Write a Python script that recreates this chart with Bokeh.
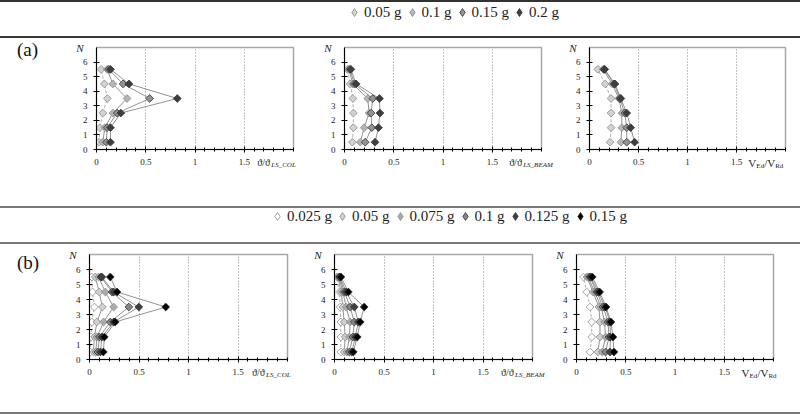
import math
from bokeh.plotting import figure
from bokeh.layouts import column, row
from bokeh.models import (Div, FixedTicker, Legend, LegendItem, Range1d, LinearAxis, Grid,
                          CustomJSTickFormatter)
from bokeh.embed import file_html
from bokeh.resources import INLINE

FONT = "Liberation Serif"

# storeys (y positions of the markers)
floors = [0.5, 1.5, 2.5, 3.5, 4.5, 5.5]
x_major = [0, 0.5, 1, 1.5]
x_minor = [0.1, 0.2, 0.3, 0.4, 0.6, 0.7, 0.8, 0.9, 1.1, 1.2, 1.3, 1.4,
           1.6, 1.7, 1.8, 1.9, 2.0]
y_major = [0, 1, 2, 3, 4, 5, 6]
x_grid = [0.5, 1, 1.5]

# ---------------- panel (a) ----------------
labels_a = ["0.05 g", "0.1 g", "0.15 g", "0.2 g"]
fills_a = ["#d2d2d2", "#b5b5b5", "#929292", "#3e3e3e"]

a_col_005 = [0.027, 0.034, 0.064, 0.11, 0.08, 0.047]
a_col_010 = [0.064, 0.085, 0.166, 0.31, 0.166, 0.108]
a_col_015 = [0.10, 0.108, 0.21, 0.54, 0.27, 0.125]
a_col_020 = [0.142, 0.142, 0.247, 0.82, 0.33, 0.142]

a_beam_005 = [0.08, 0.09, 0.09, 0.085, 0.057, 0.03]
a_beam_010 = [0.16, 0.2, 0.25, 0.236, 0.084, 0.045]
a_beam_015 = [0.21, 0.277, 0.27, 0.287, 0.10, 0.055]
a_beam_020 = [0.31, 0.345, 0.36, 0.355, 0.118, 0.065]

a_v_005 = [0.21, 0.22, 0.22, 0.22, 0.16, 0.085]
a_v_010 = [0.32, 0.33, 0.33, 0.30, 0.23, 0.14]
a_v_015 = [0.38, 0.38, 0.36, 0.31, 0.25, 0.15]
a_v_020 = [0.46, 0.42, 0.38, 0.32, 0.26, 0.155]

# ---------------- panel (b) ----------------
labels_b = ["0.025 g", "0.05 g", "0.075 g", "0.1 g", "0.125 g", "0.15 g"]
fills_b = ["#ffffff", "#cfcfcf", "#ababab", "#878787", "#404040", "#000000"]

b_col_0025 = [0.007, 0.017, 0.024, 0.05, 0.03, 0.024]
b_col_0050 = [0.04, 0.05, 0.075, 0.13, 0.098, 0.058]
b_col_0075 = [0.064, 0.075, 0.142, 0.244, 0.16, 0.092]
b_col_0100 = [0.085, 0.10, 0.21, 0.397, 0.227, 0.115]
b_col_0125 = [0.11, 0.125, 0.244, 0.498, 0.244, 0.125]
b_col_0150 = [0.14, 0.15, 0.26, 0.77, 0.278, 0.21]

b_beam_0025 = [0.064, 0.064, 0.064, 0.057, 0.05, 0.025]
b_beam_0050 = [0.098, 0.108, 0.098, 0.084, 0.067, 0.035]
b_beam_0075 = [0.125, 0.15, 0.158, 0.118, 0.084, 0.045]
b_beam_0100 = [0.15, 0.185, 0.20, 0.158, 0.10, 0.05]
b_beam_0125 = [0.175, 0.21, 0.24, 0.20, 0.118, 0.055]
b_beam_0150 = [0.19, 0.23, 0.26, 0.30, 0.14, 0.065]

b_v_0025 = [0.138, 0.154, 0.154, 0.138, 0.104, 0.07]
b_v_0050 = [0.218, 0.238, 0.238, 0.228, 0.168, 0.104]
b_v_0075 = [0.26, 0.295, 0.285, 0.25, 0.185, 0.117]
b_v_0100 = [0.295, 0.33, 0.32, 0.27, 0.205, 0.134]
b_v_0125 = [0.34, 0.345, 0.34, 0.29, 0.22, 0.144]
b_v_0150 = [0.38, 0.37, 0.35, 0.30, 0.235, 0.16]

PAGE_W = 800
XMAX, YMAX = 2, 7

# axis-title pieces: (text, font size, style, est. width px, is_sub)
col_title = [("ϑ/ϑ", "10px", "normal", 15, False), ("LS_COL", "7px", "italic", 25, True)]
beam_title = [("ϑ/ϑ", "10px", "normal", 15, False), ("LS_BEAM", "7px", "italic", 30, True)]
v_title = [("V", "11px", "normal", 8, False), ("Ed", "7px", "normal", 8, True),
           ("/V", "11px", "normal", 11, False), ("Rd", "7px", "normal", 8, True)]
MAIN_STANDOFF = -11
SUB_STANDOFF = -10
N_STANDOFF = -4


def text_axis(p, side, ticks, labels, size, style, standoff):
    ax = LinearAxis(ticker=FixedTicker(ticks=ticks, minor_ticks=[]),
                    formatter=CustomJSTickFormatter(args=dict(labs=labels),
                                                    code="return labs[index]"),
                    axis_line_color=None, major_tick_line_color=None,
                    minor_tick_line_color=None, major_tick_in=0, major_tick_out=0,
                    minor_tick_in=0, minor_tick_out=0,
                    major_label_standoff=standoff, major_label_text_font=FONT,
                    major_label_text_font_size=size, major_label_text_font_style=style,
                    major_label_text_color="#222")
    p.add_layout(ax, side)


def make_chart(series, fills, width, height, left, fw, top, fh, title_parts, title_x):
    p = figure(width=width, height=height, x_range=Range1d(0, XMAX), y_range=Range1d(0, YMAX),
               output_backend="svg", toolbar_location=None, x_axis_type=None, y_axis_type=None,
               min_border_left=left, min_border_right=width - left - fw,
               min_border_top=top, min_border_bottom=height - top - fh)
    p.background_fill_color = "white"
    p.border_fill_color = "white"
    p.outline_line_color = "#a8a8a8"
    p.outline_line_width = 1.5

    xa = LinearAxis(ticker=FixedTicker(ticks=x_major, minor_ticks=x_minor),
                    formatter=CustomJSTickFormatter(code="return tick.toString()"))
    ya = LinearAxis(ticker=FixedTicker(ticks=y_major, minor_ticks=[]))
    for ax in (xa, ya):
        ax.axis_line_color = "black"
        ax.axis_line_width = 1
        ax.major_tick_line_color = "black"
        ax.major_tick_in = 3
        ax.major_tick_out = 3
        ax.minor_tick_line_color = "black"
        ax.minor_tick_in = 2
        ax.minor_tick_out = 2
        ax.major_label_text_font = FONT
        ax.major_label_text_font_size = "9px"
        ax.major_label_text_color = "#222"
        ax.major_label_standoff = 6
    p.add_layout(xa, "below")
    p.add_layout(ya, "left")
    p.add_layout(Grid(dimension=0, ticker=FixedTicker(ticks=x_grid),
                      grid_line_color="#8a8a8a", grid_line_dash="1 2", grid_line_width=1))

    n = len(series)
    for i, vals in enumerate(series):
        if i == 0:
            p.line(x=vals, y=floors, line_color="#9a9a9a", line_width=0.8, line_dash="3 2")
        else:
            p.line(x=vals, y=floors, line_color="#777777", line_width=0.8)
    for i, (vals, fc) in enumerate(zip(series, fills)):
        lc = "#8a8a8a" if i < n // 2 else "#333333"
        p.scatter(x=vals, y=floors, marker="square", angle=math.pi / 4, size=5.5,
                  fill_color=fc, line_color=lc, line_width=0.8)

    # "N" at the top of the vertical axis
    text_axis(p, "left", [YMAX - 0.02], ["N"], "11px", "italic", N_STANDOFF)

    # axis title, laid out piece by piece along the x axis
    ppu = fw / XMAX
    off = 0.0
    main_t, main_l, sub_t, sub_l = [], [], [], []
    main_fmt = sub_fmt = None
    for txt, size, style, w, is_sub in title_parts:
        c = title_x + (off + w / 2) / ppu
        off += w
        if is_sub:
            sub_t.append(c); sub_l.append(txt); sub_fmt = (size, style)
        else:
            main_t.append(c); main_l.append(txt); main_fmt = (size, style)
    text_axis(p, "below", main_t, main_l, *main_fmt, MAIN_STANDOFF)
    text_axis(p, "below", sub_t, sub_l, *sub_fmt, SUB_STANDOFF)
    return p


def legend_fig(labels, fills, height, loc, spacing):
    p = figure(width=PAGE_W, height=height, x_range=Range1d(0, 1), y_range=Range1d(0, 1),
               x_axis_type=None, y_axis_type=None, output_backend="svg",
               toolbar_location=None, min_border=0)
    p.outline_line_color = None
    p.grid.visible = False
    items = []
    n = len(fills)
    for i, (lab, fc) in enumerate(zip(labels, fills)):
        lc = "#8a8a8a" if i < n // 2 else "#333333"
        # a point outside the visible range, so the legend has something to draw
        r = p.scatter(x=[-5], y=[-5], marker="diamond", size=8,
                      fill_color=fc, line_color=lc, line_width=0.8)
        items.append(LegendItem(label=lab, renderers=[r]))
    leg = Legend(items=items, location=loc, orientation="horizontal",
                 label_text_font=FONT, label_text_font_size="15px", label_text_color="#222",
                 glyph_width=20, glyph_height=20, label_height=20, label_standoff=-4,
                 spacing=spacing, padding=0, margin=0, border_line_color=None,
                 background_fill_alpha=0)
    p.add_layout(leg, "center")
    return p


def hline(color):
    return Div(text="", width=PAGE_W, height=2, margin=0,
               styles={"background-color": color})


def panel_label(txt, height, left, top):
    html = ('<div style="margin-left:%dpx;margin-top:%dpx;font-family:\'Liberation Serif\';'
            'font-size:19px;line-height:20px;color:#111;white-space:nowrap">%s</div>'
            % (left, top, txt))
    return Div(text=html, width=40, height=height, margin=0)


sa_col = [a_col_005, a_col_010, a_col_015, a_col_020]
sa_beam = [a_beam_005, a_beam_010, a_beam_015, a_beam_020]
sa_v = [a_v_005, a_v_010, a_v_015, a_v_020]
sb_col = [b_col_0025, b_col_0050, b_col_0075, b_col_0100, b_col_0125, b_col_0150]
sb_beam = [b_beam_0025, b_beam_0050, b_beam_0075, b_beam_0100, b_beam_0125, b_beam_0150]
sb_v = [b_v_0025, b_v_0050, b_v_0075, b_v_0100, b_v_0125, b_v_0150]

RA_H = 168
a1 = make_chart(sa_col, fills_a, 265, RA_H, 56, 197, 9, 106, col_title, 1.62)
a2 = make_chart(sa_beam, fills_a, 250, RA_H, 39, 197, 6, 105, beam_title, 1.66)
a3 = make_chart(sa_v, fills_a, 245, RA_H, 34, 196, 9, 106, v_title, 1.62)

RB_H = 168
b1 = make_chart(sb_col, fills_b, 260, RB_H, 49, 198, 10, 105, col_title, 1.63)
b2 = make_chart(sb_beam, fills_b, 245, RB_H, 34, 198, 10, 105, beam_title, 1.67)
b3 = make_chart(sb_v, fills_b, 255, RB_H, 31, 197, 10, 105, v_title, 1.675)

leg_a = legend_fig(labels_a, fills_a, 34, (344, 14), -4)
leg_b = legend_fig(labels_b, fills_b, 34, (267, 16), -2)

layout = column(
    hline("#333333"), leg_a, hline("#3a3a3a"),
    row(panel_label("(a)", RA_H, 17, 2), a1, a2, a3, spacing=0),
    hline("#7a7a7a"), leg_b, hline("#7a7a7a"),
    row(panel_label("(b)", RB_H, 17, 9), b1, b2, b3, spacing=0),
    hline("#7a7a7a"),
    spacing=0,
)

open("out.html", "w").write(file_html(layout, INLINE))
